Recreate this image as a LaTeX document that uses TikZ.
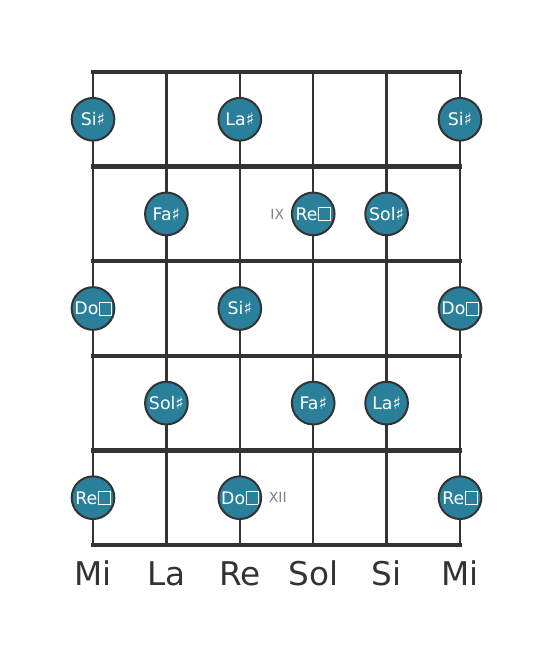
\documentclass[tikz,border=0pt]{standalone}
\usepackage{fontspec}
\setmainfont{DejaVu Sans}
\usetikzlibrary{positioning}
\definecolor{noteteal}{RGB}{42,127,155}
\definecolor{boardgray}{RGB}{51,51,51}
\tikzset{
    gtrstring/.style={draw=boardgray, line width=1.9pt},
    fretline/.style={draw=boardgray, line width=3.4pt},
    note/.style={circle, fill=noteteal, draw=boardgray, line width=1.5pt,
        minimum size=32pt, inner sep=0pt, text=white, font=\fontsize{13}{15}\selectfont},
    fretnum/.style={text=gray, font=\fontsize{10.5}{12}\selectfont},
    tuning/.style={anchor=base, text=boardgray, font=\fontsize{24.5}{28}\selectfont}
}
% double sharp, drawn as the missing-glyph box of the reference
\newcommand{\dblsharp}{\kern0.4pt{\setlength{\fboxsep}{0pt}\setlength{\fboxrule}{0.5pt}%
    \fbox{\rule{0pt}{9.5pt}\hspace{8.5pt}}}}

\begin{document}
\begin{tikzpicture}[x=0.75pt, y=-0.75pt]
    \useasboundingbox (0,0) rectangle (553,656);
    % strings
    \foreach \s/\x/\name in {1/93/Mi, 2/166.4/La, 3/239.8/Re, 4/313.2/Sol, 5/386.6/Si, 6/460/Mi} {
        \coordinate (t\s) at (\x,72);
        \coordinate (b\s) at (\x,545);
        \draw[gtrstring] (t\s) -- (b\s);
        \node[tuning] (tun\s) at (\x,585) {\name};
    }
    % frets
    \foreach \f/\y in {0/72, 1/166.6, 2/261.2, 3/355.8, 4/450.4, 5/545} {
        \coordinate (fl\f) at (93,\y);
        \coordinate (fr\f) at (460,\y);
        \draw[fretline, line cap=rect] (fl\f) -- (fr\f);
    }
    % notes
    \foreach \r/\y in {1/119.3, 2/213.9, 3/308.5, 4/403.1, 5/497.7} {
        \coordinate (row\r) at (0,\y);
    }
    \node[note] (n11) at (t1 |- row1) {Si♯};
    \node[note] (n13) at (t3 |- row1) {La♯};
    \node[note] (n16) at (t6 |- row1) {Si♯};
    \node[note] (n22) at (t2 |- row2) {Fa♯};
    \node[note] (n24) at (t4 |- row2) {Re\dblsharp};
    \node[note] (n25) at (t5 |- row2) {Sol♯};
    \node[note] (n31) at (t1 |- row3) {Do\dblsharp};
    \node[note] (n33) at (t3 |- row3) {Si♯};
    \node[note] (n36) at (t6 |- row3) {Do\dblsharp};
    \node[note] (n42) at (t2 |- row4) {Sol♯};
    \node[note] (n44) at (t4 |- row4) {Fa♯};
    \node[note] (n45) at (t5 |- row4) {La♯};
    \node[note] (n51) at (t1 |- row5) {Re\dblsharp};
    \node[note] (n53) at (t3 |- row5) {Do\dblsharp};
    \node[note] (n56) at (t6 |- row5) {Re\dblsharp};
    % fret numbers
    \node[fretnum, left=1.5pt of n24] (ix) {IX};
    \node[fretnum, right=1.5pt of n53] (xii) {XII};
\end{tikzpicture}
\end{document}
